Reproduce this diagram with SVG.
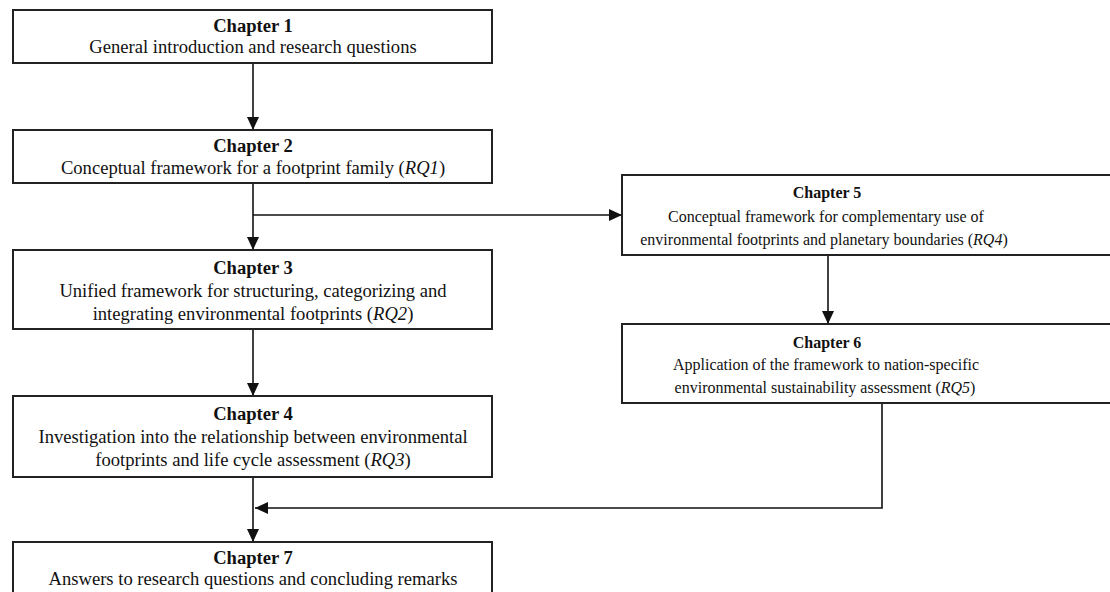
<svg xmlns="http://www.w3.org/2000/svg" width="1110" height="592" viewBox="0 0 1110 592">
<defs>
<marker id="arr" markerUnits="userSpaceOnUse" markerWidth="13" markerHeight="13" viewBox="0 0 13 13" refX="13" refY="6.5" orient="auto">
<path d="M0,0.5 L13,6.5 L0,12.5 Z" fill="#111"/>
</marker>
<style>
.box{fill:#fff;stroke:#222;stroke-width:2}
.t{font-family:"Liberation Serif","Times New Roman",serif;font-size:18.6px;fill:#111;text-anchor:middle}
.s{font-size:16px}
.b{font-weight:bold}
.con{fill:none;stroke:#111;stroke-width:1.6}
</style>
</defs>
<rect width="1110" height="592" fill="#fff"/>
<g id="connectors">
<line class="con" x1="253" y1="63" x2="253" y2="130" marker-end="url(#arr)"/>
<line class="con" x1="253" y1="183" x2="253" y2="250" marker-end="url(#arr)"/>
<line class="con" x1="253" y1="215" x2="622" y2="215" marker-end="url(#arr)"/>
<line class="con" x1="253" y1="329" x2="253" y2="396" marker-end="url(#arr)"/>
<line class="con" x1="253" y1="477" x2="253" y2="542" marker-end="url(#arr)"/>
<line class="con" x1="828" y1="255" x2="828" y2="324" marker-end="url(#arr)"/>
<polyline class="con" points="882,403 882,508 255,508" marker-end="url(#arr)"/>
</g>
<g id="ch1">
<rect class="box" x="13" y="10" width="479" height="53"/>
<text class="t b" x="253" y="32">Chapter 1</text>
<text class="t" x="253" y="53">General introduction and research questions</text>
</g>
<g id="ch2">
<rect class="box" x="13" y="130" width="479" height="53"/>
<text class="t b" x="253" y="152">Chapter 2</text>
<text class="t" x="253" y="174">Conceptual framework for a footprint family (<tspan font-style="italic">RQ1</tspan>)</text>
</g>
<g id="ch3">
<rect class="box" x="13" y="250" width="479" height="79"/>
<text class="t b" x="253" y="274">Chapter 3</text>
<text class="t" x="253" y="297">Unified framework for structuring, categorizing and</text>
<text class="t" x="253" y="320">integrating environmental footprints (<tspan font-style="italic">RQ2</tspan>)</text>
</g>
<g id="ch4">
<rect class="box" x="13" y="396" width="479" height="81"/>
<text class="t b" x="253" y="420">Chapter 4</text>
<text class="t" x="253" y="443">Investigation into the relationship between environmental</text>
<text class="t" x="253" y="466">footprints and life cycle assessment (<tspan font-style="italic">RQ3</tspan>)</text>
</g>
<g id="ch7">
<rect class="box" x="13" y="542" width="479" height="60"/>
<text class="t b" x="253" y="564">Chapter 7</text>
<text class="t" x="253" y="585">Answers to research questions and concluding remarks</text>
</g>
<g id="ch5">
<rect class="box" x="622" y="175" width="492" height="80"/>
<text class="t s b" x="827" y="198">Chapter 5</text>
<text class="t s" x="826" y="222">Conceptual framework for complementary use of</text>
<text class="t s" x="824" y="245">environmental footprints and planetary boundaries (<tspan font-style="italic">RQ4</tspan>)</text>
</g>
<g id="ch6">
<rect class="box" x="622" y="324" width="492" height="79"/>
<text class="t s b" x="827" y="348">Chapter 6</text>
<text class="t s" x="826" y="370">Application of the framework to nation-specific</text>
<text class="t s" x="825" y="393">environmental sustainability assessment (<tspan font-style="italic">RQ5</tspan>)</text>
</g>
</svg>
